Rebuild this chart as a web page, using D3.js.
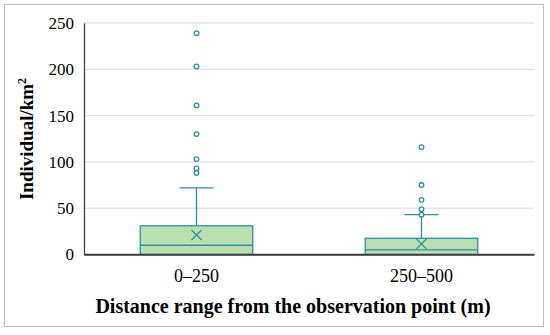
<!DOCTYPE html>
<html><head><meta charset="utf-8">
<script src="https://cdn.jsdelivr.net/npm/d3@7"></script>
<style>body{margin:0;background:#fff}svg{display:block}</style>
</head><body>
<script>
const categories = ["0\u2013250", "250\u2013500"];
const q1 = [0, 0];
const medians = [10, 5];
const q3 = [31, 17.5];
const whiskerLow = [0, 0];
const whiskerHigh = [72, 43];
const means = [21, 11.5];
const outliers = [[239, 203, 161, 130, 103, 93, 88], [116, 75, 59, 49, 43]];
const yTicks = [0, 50, 100, 150, 200, 250];

const W = 550, H = 335;
const m = {l: 84, r: 16, t: 23, b: 80.5};
const svg = d3.select("body").append("svg").attr("width", W).attr("height", H);
svg.append("rect").attr("x", 4.5).attr("y", 4.5).attr("width", 539).attr("height", 322)
  .attr("fill", "#fff").attr("stroke", "#bfbfbf").attr("stroke-width", 1);

const x = d3.scaleBand().domain(categories).range([m.l, W - m.r]).paddingInner(0.5).paddingOuter(0.25);
const y = d3.scaleLinear().domain([0, 250]).range([H - m.b, m.t]);

// grid
svg.append("g").selectAll("line").data(yTicks.slice(1)).join("line")
  .attr("x1", m.l).attr("x2", W - m.r).attr("y1", d => y(d)).attr("y2", d => y(d))
  .attr("stroke", "#d9d9d9").attr("stroke-width", 1);

// y axis
const ya = svg.append("g").attr("transform", `translate(${m.l},0)`)
  .call(d3.axisLeft(y).tickValues(yTicks).tickSize(0).tickPadding(10));
ya.select(".domain").attr("stroke", "#404040").attr("stroke-width", 1.3);
ya.selectAll("text").attr("font-family", "Liberation Serif").attr("font-size", 17).attr("fill", "#000");

// x axis
const xa = svg.append("g").attr("transform", `translate(0,${y(0)})`)
  .call(d3.axisBottom(x).tickSize(0).tickPadding(15));
xa.select(".domain").attr("stroke", "#404040").attr("stroke-width", 1.3);
xa.selectAll("text").attr("font-family", "Liberation Serif").attr("font-size", 18).attr("fill", "#000");

const teal = "#2f8da3";
const bw = x.bandwidth();
const g = svg.append("g");
categories.forEach((c, i) => {
  const cx = x(c) + bw / 2;
  // whisker
  g.append("line").attr("x1", cx).attr("x2", cx).attr("y1", y(q3[i])).attr("y2", y(whiskerHigh[i]))
    .attr("stroke", teal).attr("stroke-width", 1.3);
  g.append("line").attr("x1", cx - 17).attr("x2", cx + 17).attr("y1", y(whiskerHigh[i])).attr("y2", y(whiskerHigh[i]))
    .attr("stroke", teal).attr("stroke-width", 1.3);
  // box
  g.append("rect").attr("x", x(c)).attr("width", bw).attr("y", y(q3[i])).attr("height", y(q1[i]) - y(q3[i]))
    .attr("fill", "#b8e0b0").attr("stroke", teal).attr("stroke-width", 1.3);
  g.append("line").attr("x1", x(c)).attr("x2", x(c) + bw).attr("y1", y(medians[i])).attr("y2", y(medians[i]))
    .attr("stroke", teal).attr("stroke-width", 1.3);
  // mean X
  const my = y(means[i]), s = 5;
  g.append("path").attr("d", `M${cx - s},${my - s}L${cx + s},${my + s}M${cx - s},${my + s}L${cx + s},${my - s}`)
    .attr("stroke", teal).attr("stroke-width", 1.3).attr("fill", "none");
  // outliers
  g.selectAll(null).data(outliers[i]).join("circle")
    .attr("cx", cx).attr("cy", d => y(d)).attr("r", 2.3)
    .attr("fill", "#fff").attr("stroke", teal).attr("stroke-width", 1.3);
});
// redraw x axis line on top
svg.append("line").attr("x1", m.l).attr("x2", W - m.r).attr("y1", y(0)).attr("y2", y(0))
  .attr("stroke", "#404040").attr("stroke-width", 1.3);

svg.append("text").attr("x", 293).attr("y", 313).attr("text-anchor", "middle")
  .attr("font-family", "Liberation Serif").attr("font-weight", "bold").attr("font-size", 20)
  .text("Distance range from the observation point (m)");
svg.append("text").attr("transform", "translate(33,139) rotate(-90)").attr("text-anchor", "middle")
  .attr("font-family", "Liberation Serif").attr("font-weight", "bold").attr("font-size", 19)
  .html("Individual/km<tspan dy='-7' font-size='12'>2</tspan>");
</script>
</body></html>
